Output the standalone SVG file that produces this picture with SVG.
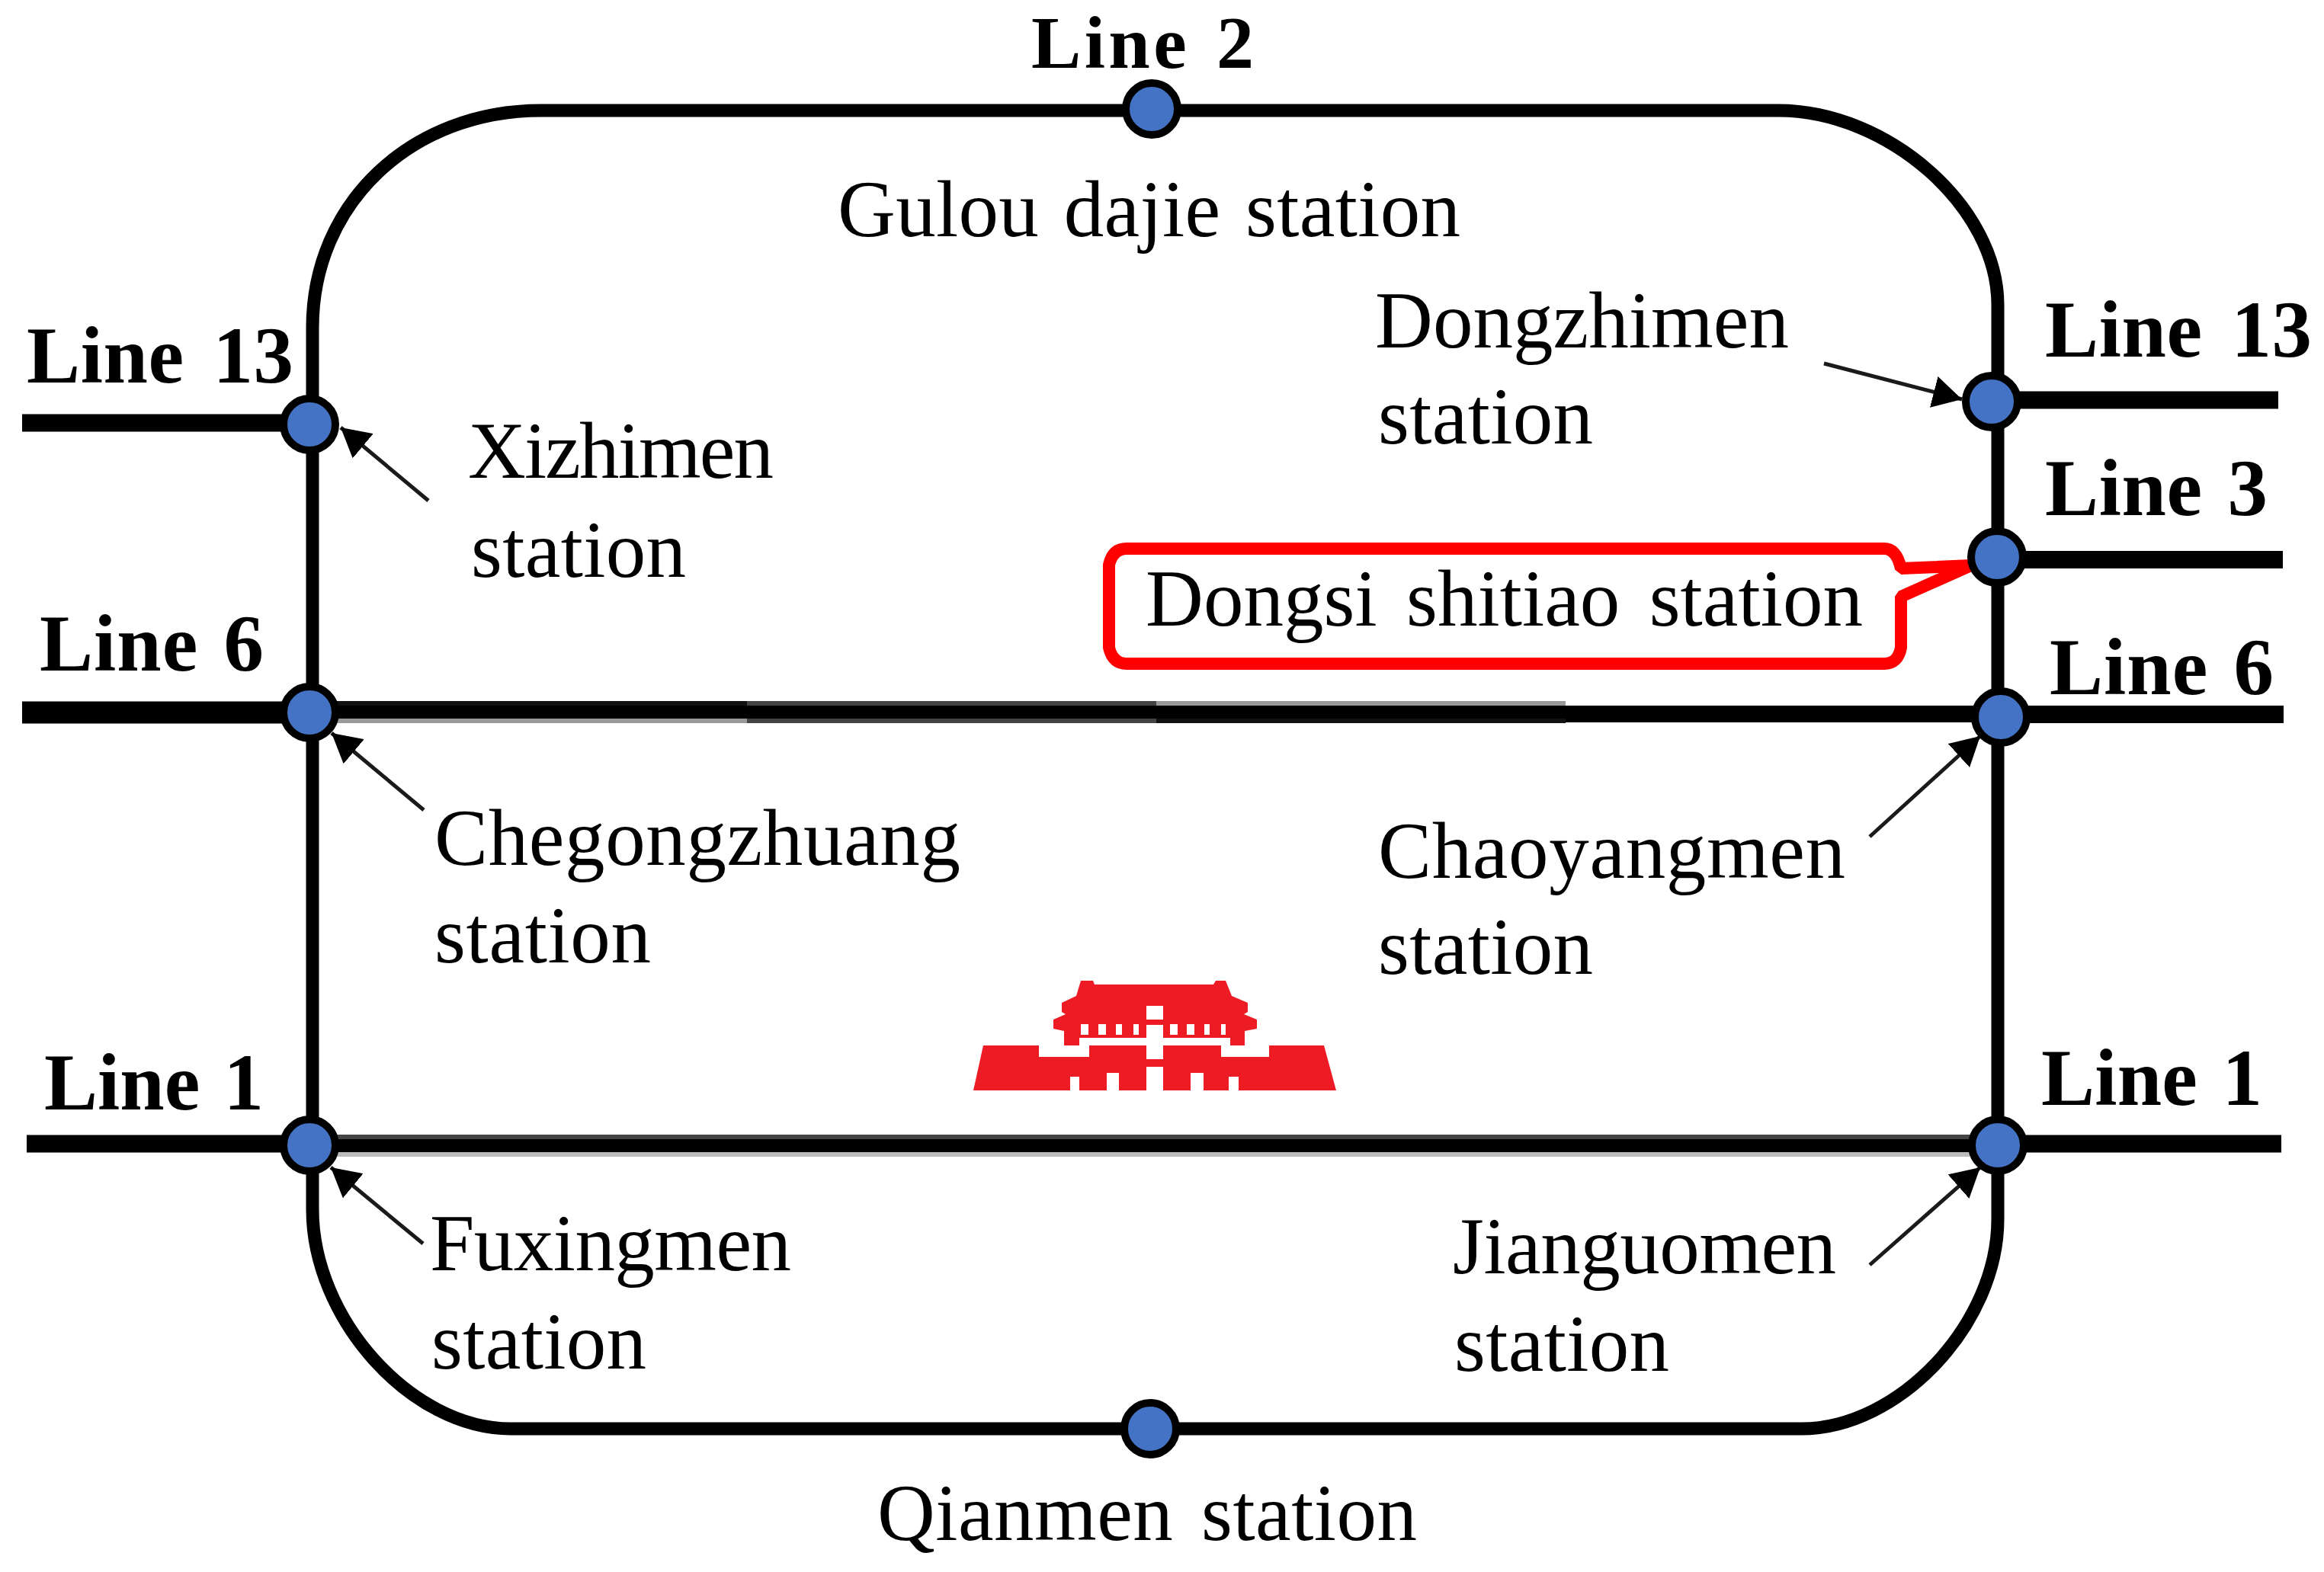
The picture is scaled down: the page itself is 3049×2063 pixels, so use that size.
<svg xmlns="http://www.w3.org/2000/svg" width="3049" height="2063" viewBox="0 0 3049 2063">
<defs>
<style>
.t{font-family:"Liberation Serif","Times New Roman",serif;font-size:105px;fill:#000}
.b{font-weight:bold}
.st{fill:#4472c4;stroke:#000;stroke-width:10}
.trk{fill:none;stroke:#000;stroke-width:17}
.stub{stroke:#000;stroke-width:23;fill:none}
.ar{stroke:#1a1a1a;stroke-width:5;fill:none;marker-end:url(#ah)}
</style>
<marker id="ah" markerUnits="userSpaceOnUse" markerWidth="40" markerHeight="42" refX="38" refY="21" orient="auto"><path d="M0 0L38 21L0 42Z" fill="#000"/></marker>
</defs>
<rect width="3049" height="2063" fill="#fff"/>
<g id="connectors">
<path class="trk" d="M410 430C410 267 539 145 710 145H2333C2477 145 2621 272 2621 400V1600C2621 1737 2492 1875 2363 1875H670C540 1875 410 1731 410 1587Z"/>
<path class="stub" d="M29 555H380"/>
<path class="stub" style="stroke-width:29" d="M29 935H380"/>
<path class="stub" d="M35 1501H400"/>
<rect x="440" y="920" width="540" height="6" fill="#111"/><rect x="980" y="920" width="537" height="6" fill="#444"/><rect x="1517" y="920" width="537" height="6" fill="#999"/>
<rect x="440" y="926" width="2170" height="17" fill="#000"/><rect x="2054" y="943" width="556" height="5" fill="#000"/>
<rect x="440" y="943" width="540" height="6" fill="#999"/><rect x="980" y="943" width="537" height="6" fill="#444"/><rect x="1517" y="943" width="537" height="6" fill="#111"/>
<rect x="440" y="1489" width="2150" height="6" fill="#444"/><rect x="440" y="1495" width="2150" height="17" fill="#000"/><rect x="440" y="1512" width="2150" height="6" fill="#bbb"/>
<path class="stub" d="M2640 525H2989"/>
<path class="stub" d="M2640 734.500H2995"/>
<path class="stub" d="M2640 937.500H2996"/>
<path class="stub" d="M2640 1501H2993"/>
<path class="ar" d="M562 657L447 561"/>
<path class="ar" d="M556 1063L435 962"/>
<path class="ar" d="M555 1632L434 1532"/>
<path class="ar" d="M2393 477L2574 524"/>
<path class="ar" d="M2453 1098L2598 966"/>
<path class="ar" d="M2453 1660L2598 1532"/>
</g>
<g id="callout"><path d="M1478 720H2472Q2488 720 2494 746L2586 742L2494 783V850Q2490 871 2472 871H1478Q1460 871 1455 850V741Q1460 720 1478 720Z" fill="#fff" stroke="#f00" stroke-width="16" stroke-linejoin="bevel"/></g>
<g id="gate">
<path fill="#ed1c24" d="M1418 1287H1434L1436 1292H1592L1595 1287H1608L1616 1307L1637 1316V1328L1632 1331L1649 1338V1350L1633 1353V1372H1614V1362H1526V1372H1602V1387H1665V1372H1737L1753 1431H1277L1290 1372H1363V1387H1429V1372H1504V1362H1416V1372H1396V1353L1382 1350V1338L1398 1331L1393 1328V1316L1412 1307Z"/>
<g fill="#fff">
<rect x="1504" y="1320" width="22" height="18"/><rect x="1504" y="1345" width="22" height="45"/><rect x="1504" y="1400" width="22" height="31"/>
<rect x="1404" y="1413" width="12" height="18"/><rect x="1452" y="1408" width="16" height="23"/><rect x="1562" y="1408" width="17" height="23"/><rect x="1612" y="1413" width="13" height="18"/>
<rect x="1418" y="1344" width="10" height="14"/><rect x="1441" y="1344" width="10" height="14"/><rect x="1464" y="1344" width="8" height="14"/><rect x="1487" y="1344" width="7" height="14"/>
<rect x="1535" y="1344" width="10" height="14"/><rect x="1557" y="1344" width="10" height="14"/><rect x="1580" y="1344" width="7" height="14"/><rect x="1602" y="1344" width="6" height="14"/>
</g>
</g>
<g id="st-gulou"><circle class="st" cx="1511" cy="143" r="34"/><text class="t b" x="1353" y="89" style="font-size:98px" word-spacing="6" textLength="292">Line 2</text><text class="t" x="1099" y="310" word-spacing="6" textLength="817">Gulou dajie station</text></g>
<g id="st-dongzhimen"><circle class="st" cx="2613" cy="527" r="34"/><text class="t" x="1804" y="456" textLength="543">Dongzhimen</text><text class="t" x="1808" y="582" textLength="282">station</text><text class="t b" x="2683" y="468" word-spacing="11" textLength="350">Line 13</text></g>
<g id="st-dongsi"><circle class="st" cx="2620" cy="731" r="34"/><text class="t b" x="2683" y="676" word-spacing="6" textLength="292">Line 3</text><text class="t" x="1503" y="821" word-spacing="12" textLength="941">Dongsi shitiao station</text></g>
<g id="st-chaoyangmen"><circle class="st" cx="2625" cy="941" r="34"/><text class="t b" x="2689" y="911" word-spacing="6" textLength="294">Line 6</text><text class="t" x="1808" y="1152" textLength="613">Chaoyangmen</text><text class="t" x="1808" y="1278" textLength="282">station</text></g>
<g id="st-jianguomen"><circle class="st" cx="2621" cy="1503" r="34"/><text class="t b" x="2678" y="1450" word-spacing="6" textLength="290">Line 1</text><text class="t" x="1906" y="1671" textLength="503">Jianguomen</text><text class="t" x="1908" y="1799" textLength="282">station</text></g>
<g id="st-qianmen"><circle class="st" cx="1509" cy="1875" r="34"/><text class="t" x="1151" y="2021" word-spacing="10" textLength="708">Qianmen station</text></g>
<g id="st-fuxingmen"><circle class="st" cx="406" cy="1503" r="34"/><text class="t b" x="58" y="1456" word-spacing="5" textLength="288">Line 1</text><text class="t" x="564" y="1667" textLength="474">Fuxingmen</text><text class="t" x="566" y="1796" textLength="282">station</text></g>
<g id="st-chegongzhuang"><circle class="st" cx="406" cy="935" r="34"/><text class="t b" x="52" y="880" word-spacing="6" textLength="294">Line 6</text><text class="t" x="570" y="1135" textLength="690">Chegongzhuang</text><text class="t" x="570" y="1263" textLength="284">station</text></g>
<g id="st-xizhimen"><circle class="st" cx="406" cy="557" r="34"/><text class="t b" x="35" y="502" word-spacing="11" textLength="350">Line 13</text><text class="t" x="614" y="627" textLength="401">Xizhimen</text><text class="t" x="618" y="757" textLength="282">station</text></g>
</svg>
